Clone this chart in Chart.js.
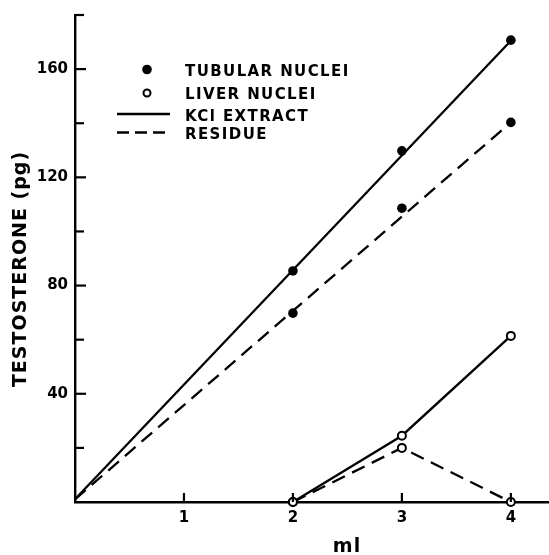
<!DOCTYPE html>
<html>
<head>
<meta charset="utf-8">
<script src="https://cdn.jsdelivr.net/npm/chart.js@4/dist/chart.umd.min.js"></script>
<style>
html,body{margin:0;padding:0;background:#fff;overflow:hidden;}
#c{display:block;}
</style>
</head>
<body>
<canvas id="c" width="549" height="555"></canvas>
<script>
// ---- data ----
const tubX = [2, 3, 4];
const tubKCl = [85.4, 129.8, 170.7];
const tubResidue = [69.8, 108.6, 140.3];
const fitX = [0, 4];
const tubKClFit = [1, 170.5];
const tubResidueFit = [1, 140.3];
const liverX = [2, 3, 4];
const liverKCl = [0, 24.5, 61.4];
const liverResidue = [0, 20, 0];
const xTickLabels = [1, 2, 3, 4];
const yTickLabels = [40, 80, 120, 160];
const yMinorTicks = [20, 60, 100, 140, 180];
const legendItems = ['TUBULAR NUCLEI', 'LIVER NUCLEI', 'KCl EXTRACT', 'RESIDUE'];
const xTitle = 'ml';
const yTitle = 'TESTOSTERONE (pg)';

const pts = (xs, ys) => xs.map((x, i) => ({x: x, y: ys[i]}));
const FONT = '"DejaVu Sans", sans-serif';
const DASH = [14, 8];
const LW = 2.3;

const lineDs = (data, dash) => ({
  data: data, showLine: true, borderColor: '#000', borderWidth: LW,
  borderDash: dash, pointRadius: 0, fill: false, clip: false, order: 2
});
const pointDs = (data, filled) => ({
  data: data, showLine: false, pointRadius: filled ? 4.8 : 4,
  pointBackgroundColor: filled ? '#000' : '#fff', pointBorderColor: '#000',
  pointBorderWidth: filled ? 0 : 2, clip: false, order: 1
});

const decor = {
  id: 'decor',
  afterDraw(chart) {
    const ctx = chart.ctx;
    const xs = chart.scales.x, ys = chart.scales.y;
    const L = xs.left, B = ys.bottom;
    ctx.save();
    ctx.strokeStyle = '#000';
    ctx.lineWidth = 2.2;
    ctx.setLineDash([]);
    // inward ticks
    xTickLabels.forEach(v => {
      const p = xs.getPixelForValue(v);
      ctx.beginPath(); ctx.moveTo(p, B); ctx.lineTo(p, B - 9); ctx.stroke();
    });
    yTickLabels.forEach(v => {
      const p = ys.getPixelForValue(v);
      ctx.beginPath(); ctx.moveTo(L, p); ctx.lineTo(L + 11, p); ctx.stroke();
    });
    yMinorTicks.forEach(v => {
      const p = ys.getPixelForValue(v);
      ctx.beginPath(); ctx.moveTo(L, p); ctx.lineTo(L + 9, p); ctx.stroke();
    });
    // legend
    ctx.fillStyle = '#000';
    ctx.beginPath(); ctx.arc(147, 69.5, 4.8, 0, Math.PI * 2); ctx.fill();
    ctx.lineWidth = 2;
    ctx.beginPath(); ctx.arc(147, 93, 3.5, 0, Math.PI * 2);
    ctx.fillStyle = '#fff'; ctx.fill(); ctx.stroke();
    ctx.lineWidth = LW;
    ctx.beginPath(); ctx.moveTo(117, 114); ctx.lineTo(170, 114); ctx.stroke();
    ctx.setLineDash([12, 6]);
    ctx.beginPath(); ctx.moveTo(117, 132.5); ctx.lineTo(170, 132.5); ctx.stroke();
    ctx.setLineDash([]);
    ctx.fillStyle = '#000';
    ctx.font = 'bold 15px ' + FONT;
    ctx.textAlign = 'left';
    ctx.textBaseline = 'alphabetic';
    try { ctx.letterSpacing = '1.4px'; } catch (e) {}
    const base = [76, 99, 121, 139];
    legendItems.forEach((t, i) => ctx.fillText(t, 185, base[i]));
    // x title
    try { ctx.letterSpacing = '1px'; } catch (e) {}
    ctx.font = 'bold 19px ' + FONT;
    ctx.textAlign = 'center';
    ctx.fillText(xTitle, 347, 552);
    // y title
    ctx.translate(26, 269);
    ctx.rotate(-Math.PI / 2);
    ctx.font = 'bold 19px ' + FONT;
    ctx.textAlign = 'center';
    ctx.fillText(yTitle, 0, 0);
    ctx.restore();
  }
};

new Chart(document.getElementById('c'), {
  type: 'scatter',
  data: {
    datasets: [
      lineDs(pts(fitX, tubKClFit), []),
      lineDs(pts(fitX, tubResidueFit), DASH),
      lineDs(pts(liverX, liverKCl), []),
      lineDs(pts(liverX, liverResidue), DASH),
      pointDs(pts(tubX, tubKCl), true),
      pointDs(pts(tubX, tubResidue), true),
      pointDs(pts(liverX, liverKCl), false),
      pointDs(pts(liverX, liverResidue), false)
    ]
  },
  options: {
    responsive: false,
    animation: false,
    devicePixelRatio: 1,
    layout: {autoPadding: false, padding: {top: 15, right: 0, left: 0, bottom: 0}},
    plugins: {legend: {display: false}, tooltip: {enabled: false}, title: {display: false}},
    scales: {
      x: {
        type: 'linear', min: 0, max: 4.35,
        grid: {display: false, drawTicks: false},
        border: {display: true, color: '#000', width: 2.4},
        ticks: {
          stepSize: 1, padding: 7, color: '#000', maxRotation: 0, autoSkip: false,
          includeBounds: false,
          font: {family: FONT, size: 15, weight: 'bold'},
          callback: v => xTickLabels.includes(v) ? String(v) : ''
        },
        afterFit: s => { s.height = 53; s.paddingLeft = 0; s.paddingRight = 0; }
      },
      y: {
        type: 'linear', min: 0, max: 180,
        grid: {display: false, drawTicks: false},
        border: {display: true, color: '#000', width: 2.4},
        ticks: {
          stepSize: 20, padding: 7, color: '#000', autoSkip: false,
          includeBounds: false,
          font: {family: FONT, size: 15, weight: 'bold'},
          callback: v => yTickLabels.includes(v) ? String(v) : ''
        },
        afterFit: s => { s.width = 75; s.paddingTop = 0; s.paddingBottom = 0; }
      }
    }
  },
  plugins: [decor]
});
</script>
</body>
</html>
